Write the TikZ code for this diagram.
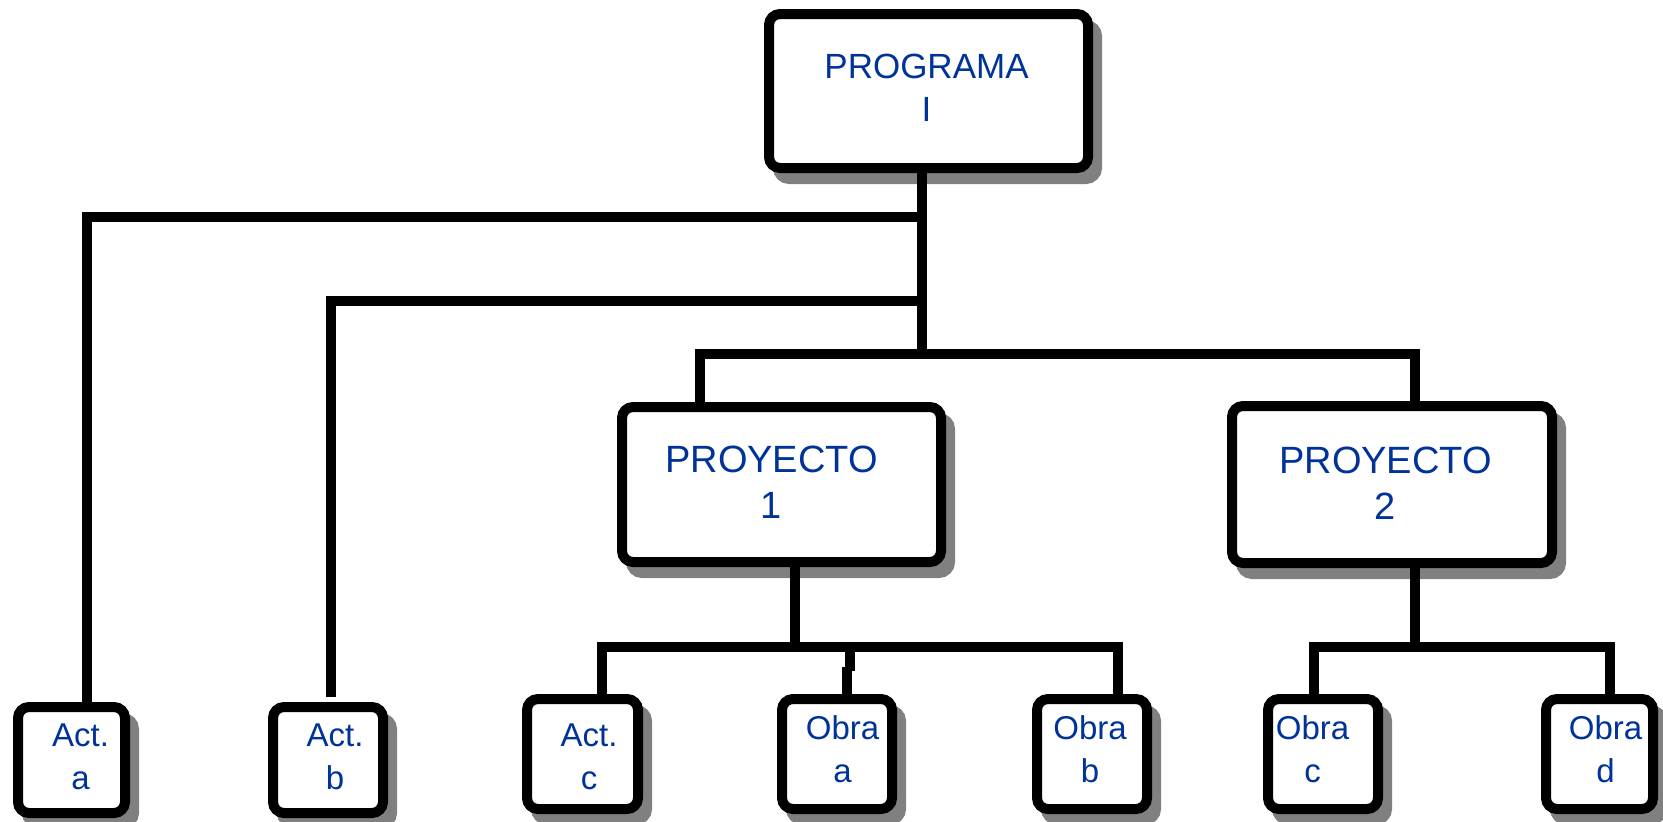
\documentclass[tikz,border=0pt]{standalone}
\usepackage{fontspec}
\setmainfont{Liberation Sans}
\usetikzlibrary{shadows}
\definecolor{txtblue}{RGB}{0,51,153}
\definecolor{shgray}{RGB}{128,128,128}
\newcommand\twolines[2]{\begin{tabular}[t]{@{}c@{}}#1\\#2\end{tabular}}
\begin{document}
\begin{tikzpicture}[x=1pt,y=-1pt,
  box/.style={draw=black, fill=white, line width=10pt, rounded corners=11pt,
    inner sep=0pt, outer sep=0pt,
    drop shadow={shadow xshift=9pt, shadow yshift=-11pt, fill=shgray, draw=shgray, opacity=1}},
  bigbox/.style={box, minimum width=319pt, minimum height=155pt},
  smallbox/.style={box, minimum width=110pt, minimum height=110pt},
  lbl/.style={text=txtblue, anchor=base, inner sep=0pt},
  fprog/.style={font=\fontsize{35}{43}\selectfont},
  fproj/.style={font=\fontsize{38}{46}\selectfont},
  fsmall/.style={font=\fontsize{33}{43}\selectfont},
  conn/.style={draw=black, line width=10pt, line join=miter}]
\useasboundingbox (0,0) rectangle (1663,822);

% boxes
\node[bigbox, minimum height=154pt] (prog) at (928.5,91) {};
\node[bigbox] (p1) at (781.5,484.5) {};
\node[bigbox, minimum width=320pt, minimum height=157pt] (p2) at (1392,484.5) {};
\node[smallbox, minimum width=107pt, minimum height=106pt] (acta) at (71.5,760) {};
\node[smallbox, minimum height=106pt] (actb) at (328,760) {};
\node[smallbox, minimum width=111pt] (actc) at (582.5,754) {};
\node[smallbox] (obraa) at (837,754) {};
\node[smallbox] (obrab) at (1092,754) {};
\node[smallbox] (obrac) at (1323,754) {};
\node[smallbox, minimum width=107pt] (obrad) at (1599.5,754) {};

% labels
\node[lbl, fprog] (tprog) at (926.5,78) {\twolines{PROGRAMA}{I}};
\node[lbl, fproj] (tp1) at (771.5,472) {\twolines{PROYECTO}{1}};
\node[lbl, fproj] (tp2) at (1385.5,473) {\twolines{PROYECTO}{2}};
\node[lbl, fsmall] (tacta) at (80.5,746) {\twolines{Act.}{a}};
\node[lbl, fsmall] (tactb) at (335,746) {\twolines{Act.}{b}};
\node[lbl, fsmall] (tactc) at (589,746) {\twolines{Act.}{c}};
\node[lbl, fsmall] (tobraa) at (842.5,739) {\twolines{Obra}{a}};
\node[lbl, fsmall] (tobrab) at (1090,739) {\twolines{Obra}{b}};
\node[lbl, fsmall] (tobrac) at (1312.5,739) {\twolines{Obra}{c}};
\node[lbl, fsmall] (tobrad) at (1605.5,739) {\twolines{Obra}{d}};

% junction coordinates
\coordinate (m0) at (922,354);
\coordinate (m1) at (922,217);
\coordinate (m2) at (922,301);
\coordinate (h1) at (87,217);
\coordinate (h2) at (331,301);
\coordinate (b1) at (700,354);
\coordinate (b2) at (1415,354);
\coordinate (d1) at (795,647);
\coordinate (e1) at (602,647);
\coordinate (e2) at (850,647);
\coordinate (e2a) at (850,671);
\coordinate (e2b) at (847,667);
\coordinate (e3) at (1118,647);
\coordinate (f0) at (1415,647);
\coordinate (f1) at (1314,647);
\coordinate (f2) at (1610,647);

% connectors
\draw[conn] (prog.south -| m0) -- (m0);
\draw[conn] (acta.north -| h1) |- (m1);
\draw[conn] ([yshift=10pt]actb.north -| h2) |- (m2);
\draw[conn] (p1.north -| b1) |- (b2) -- (p2.north -| b2);
\draw[conn] (p1.south -| d1) -- (d1);
\draw[conn] (actc.north -| e1) |- (e3) -- (obrab.north -| e3);
\draw[conn] (e2) -- (e2a) (e2b) -- (obraa.north -| e2b);
\draw[conn] (p2.south -| f0) -- (f0);
\draw[conn] (obrac.north -| f1) |- (f2) -- (obrad.north -| f2);
\end{tikzpicture}
\end{document}
